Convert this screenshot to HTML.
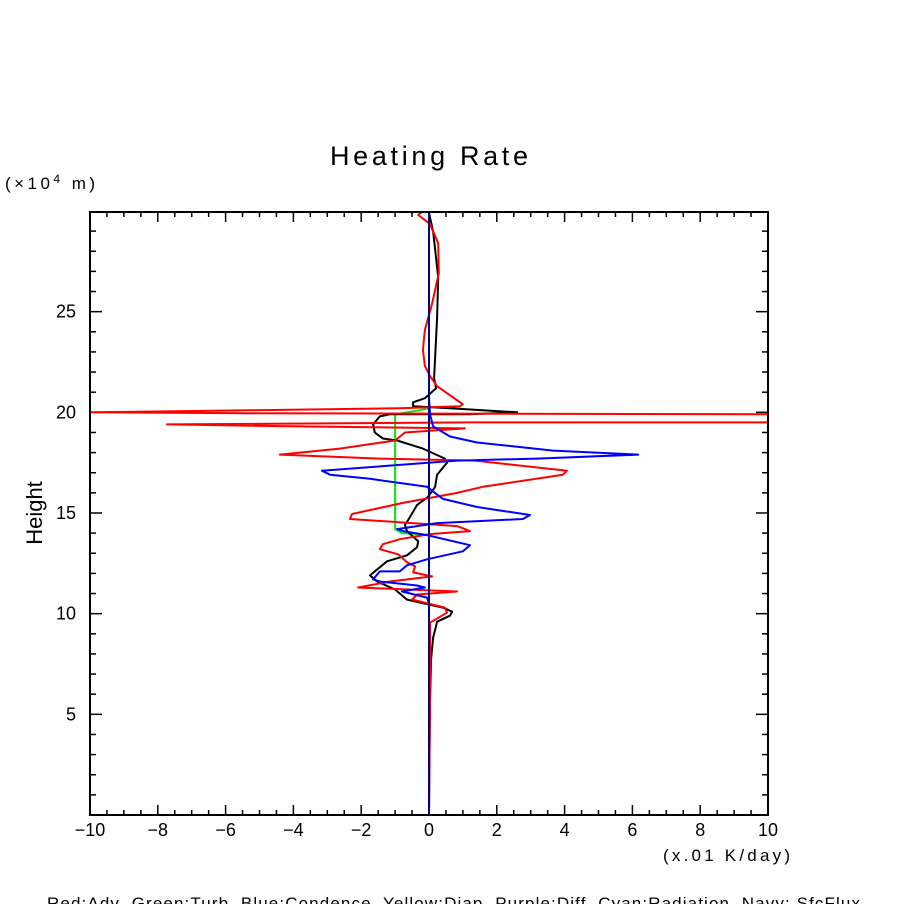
<!DOCTYPE html>
<html><head><meta charset="utf-8"><style>
html,body{margin:0;padding:0;background:#fff;}
svg{display:block;font-family:"Liberation Sans","DejaVu Sans",sans-serif;}
</style></head><body>
<svg id="chart" width="904" height="904" viewBox="0 0 904 904">
<rect x="0" y="0" width="904" height="904" fill="#fff"/>
<text x="330" y="165" font-size="27" textLength="198" lengthAdjust="spacing">Heating Rate</text>
<text x="5" y="189" font-size="17" textLength="90" lengthAdjust="spacing">(×10<tspan dy="-6" font-size="12">4</tspan><tspan dy="6"> m)</tspan></text>
<text x="42" y="513" font-size="22" text-anchor="middle" transform="rotate(-90 42 513)">Height</text>
<text x="663" y="861" font-size="17" textLength="127" lengthAdjust="spacing">(x.01 K/day)</text>
<text x="47" y="909" font-size="17" textLength="813" lengthAdjust="spacing" style="white-space:pre" xml:space="preserve">Red:Adv  Green:Turb  Blue:Condence  Yellow:Diap  Purple:Diff  Cyan:Radiation  Navy: SfcFlux</text>
<defs><clipPath id="plotclip"><rect x="90" y="212" width="678" height="603"/></clipPath></defs>
<g id="ticks"></g>
<g id="series" clip-path="url(#plotclip)"></g>
<rect x="90" y="212" width="678" height="603" fill="none" stroke="#000" stroke-width="2"/>
</svg>
<script>
const xTicks = [-10,-8,-6,-4,-2,0,2,4,6,8,10];
const yTicks = [5,10,15,20,25];
const redV = [-0.21,-0.32,0.03,0.27,0.29,0.09,-0.12,-0.18,-0.12,0.03,0.24,1.0,0.91,-0.86,-5.28,-10,-5.28,10,10,1.21,-7.73,-3.8,1.06,-0.71,-1.0,-2.63,-4.4,-1.45,1.36,4.07,3.95,1.59,0.83,-0.77,-2.27,-2.33,0.83,1.21,0.03,-0.86,-1.36,-1.45,-0.91,-0.65,-0.41,-0.47,0.09,-1.15,-2.09,0.83,-0.35,-0.5,0.47,0.53,0.03,0.03,0];
const redH = [29.95,29.8,29.35,28.4,26.9,25.4,24.1,23.1,22.3,21.8,21.3,20.4,20.3,20.2,20.1,20.0,19.95,19.9,19.5,19.5,19.4,19.3,19.2,19.0,18.6,18.2,17.9,17.7,17.6,17.1,16.9,16.3,16.0,15.5,14.95,14.7,14.35,14.1,13.95,13.7,13.45,13.2,12.95,12.55,12.35,12.05,11.85,11.6,11.3,11.1,10.95,10.7,10.3,10.05,9.55,5.7,0.05];
const blackV = [0,0.12,0.27,0.24,0.18,0.15,0.21,-0.12,-0.47,-0.47,0.62,2.6,1.2,-1.15,-1.45,-1.65,-1.6,-1.36,-0.94,-0.18,0.47,0.53,0.24,0.18,-0.03,-0.35,-0.56,-0.71,-0.65,-0.32,-0.35,-0.65,-1.24,-1.74,-1.53,-1.0,-0.65,0.41,0.68,0.62,0.24,0.12,0.06,0.03,0];
const blackH = [29.9,29.0,26.7,24.7,22.7,21.7,21.2,20.7,20.5,20.3,20.2,20.0,19.9,19.9,19.8,19.4,19.0,18.7,18.6,18.2,17.7,17.5,16.9,16.3,15.8,15.4,14.8,14.4,14.1,13.6,13.3,12.9,12.6,11.9,11.6,11.2,10.7,10.3,10.1,9.9,9.6,8.8,7.7,5.7,0.05];
const greenV = [0,0,-0.3,-1.0,-1.0,-0.8,0,0];
const greenH = [29.9,20.2,20.1,19.9,14.2,14.0,13.9,0];
const blueV = [0,0,0.03,0.12,0.62,1.42,3.66,6.17,3.19,0.83,-3.16,-2.92,-1.74,-0.06,0.41,1.42,2.98,2.77,0.24,-0.94,-0.77,-0.06,1.21,1.0,-0.06,-0.65,-0.86,-1.45,-1.65,-1.45,-0.35,-0.12,-0.8,-0.06,0,0];
const blueH = [29.9,20.7,19.9,19.3,18.8,18.5,18.1,17.9,17.7,17.6,17.1,16.9,16.7,16.3,15.7,15.3,14.9,14.7,14.5,14.2,14.1,13.9,13.4,13.1,12.7,12.4,12.1,12.1,11.7,11.6,11.4,11.3,11.1,10.8,10.5,0];
const navyV = [0,0];
const navyH = [0,29.9];

const NS = "http://www.w3.org/2000/svg";
const X0 = 90, X1 = 768, Y0 = 815, Y1 = 212;
const xMin = -10, xMax = 10, hMin = 0, hMax = 29.95;
function xs(v){ return X0 + (v - xMin) / (xMax - xMin) * (X1 - X0); }
function ys(h){ return Y0 - (h - hMin) / (hMax - hMin) * (Y0 - Y1); }

const tg = document.getElementById('ticks');
function line(g,x1,y1,x2,y2,c,w){
  const l = document.createElementNS(NS,'line');
  l.setAttribute('x1',x1);l.setAttribute('y1',y1);l.setAttribute('x2',x2);l.setAttribute('y2',y2);
  l.setAttribute('stroke',c);l.setAttribute('stroke-width',w);
  g.appendChild(l);return l;
}
function txt(x,y,s,anchor){
  const t = document.createElementNS(NS,'text');
  t.setAttribute('x',x);t.setAttribute('y',y);t.setAttribute('font-size','18');t.setAttribute('text-anchor',anchor);
  t.textContent = s;tg.appendChild(t);return t;
}
for(let v=xMin; v<=xMax+1e-9; v+=0.5){
  const major = Math.abs(v/2 - Math.round(v/2))<1e-9;
  const L = major?10:5, x = xs(v);
  const a = line(tg,x,Y0,x,Y0-L,'#000',1.5);
  
  
  const b = line(tg,x,Y1,x,Y1+L,'#000',1.5);
  
  
}
xTicks.forEach(v=>{
  const t = txt(xs(v), 836, v<0?('\u2212'+Math.abs(v)):String(v), 'middle');
  
  
});
for(let h=1; h<=29; h++){
  const major = h%5===0, L = major?12:6, y = ys(h);
  const a = line(tg,X0,y,X0+L,y,'#000',1.5);
  
  
  const b = line(tg,X1,y,X1-L,y,'#000',1.5);
  
  
}
yTicks.forEach(h=>{
  const t = txt(76, ys(h)+6, String(h), 'end');
  
  
});

const sg = document.getElementById('series');
function series(V,H,color,name){
  const p = document.createElementNS(NS,'polyline');
  p.setAttribute('points', V.map((v,i)=>xs(v).toFixed(1)+','+ys(H[i]).toFixed(1)).join(' '));
  p.setAttribute('fill','none');p.setAttribute('stroke',color);p.setAttribute('stroke-width','2');
  p.setAttribute('stroke-linejoin','round');
  
  
  sg.appendChild(p);
}
series(greenV,greenH,'#00ee00','turb-line');
series(blackV,blackH,'#000000','total-line');
series(redV,redH,'#ff0000','adv-line');
series(blueV,blueH,'#0000ff','condence-line');
series(navyV,navyH,'#000080','sfcflux-line');
</script>
</body></html>
